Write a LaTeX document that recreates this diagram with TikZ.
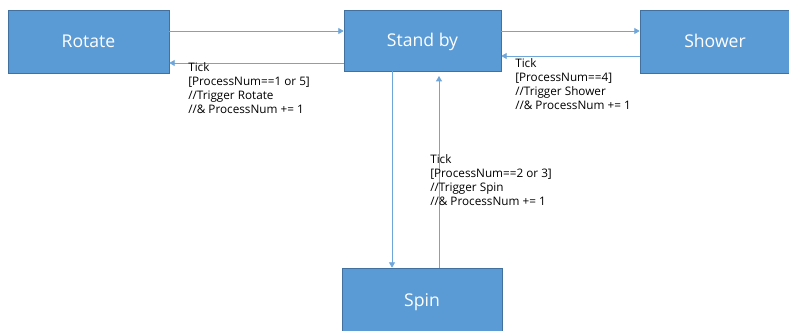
\documentclass[tikz,border=0pt]{standalone}
\usepackage{fontspec}
\setmainfont{Open Sans}
\usetikzlibrary{arrows.meta}
\definecolor{boxblue}{HTML}{5B9BD5}
\definecolor{boxline}{HTML}{41719C}
\definecolor{flowblue}{HTML}{6FA6DA}
\begin{document}
\begin{tikzpicture}[x=0.75pt,y=-0.75pt,
  state/.style={draw=boxline,line width=0.5pt,fill=boxblue,text=white,font=\fontsize{13.2}{15}\selectfont,inner sep=0pt,text height=9.3pt,text depth=0pt},
  flow/.style={draw=flowblue,line width=0.6pt,-{Triangle[width=4.5pt,length=4pt]}},
  guard/.style={align=left,anchor=north west,inner sep=0pt,font=\fontsize{8.8}{10.5}\selectfont}]
\useasboundingbox (0,0) rectangle (789,331);
\node[state,minimum width=120.75pt,minimum height=47.25pt](rot) at (88.5,41.5){Rotate};
\node[state,minimum width=117.75pt,minimum height=45.75pt](sb) at (422.5,40.5){Stand by};
\node[state,minimum width=112.5pt,minimum height=47.25pt](sh) at (715,41.5){Shower};
\node[state,minimum width=120pt,minimum height=48pt](sp) at (422,300){Spin};
\draw[flow](rot.east |- 0,31)--(sb.west |- 0,31);
\draw[flow](sb.west |- 0,63)--(rot.east |- 0,63);
\draw[flow](sb.east |- 0,31)--(sh.west |- 0,31);
\draw[flow](sh.west |- 0,56)--(sb.east |- 0,56);
\draw[flow](392,0 |- sb.south)--(392,0 |- sp.north);
\draw[flow](439,0 |- sp.north)--(439,76);
\node[guard](g1) at (188,62){Tick\\{}[ProcessNum==1 or 5]\\//Trigger Rotate\\//\& ProcessNum += 1};
\node[guard](g2) at (515,58){Tick\\{}[ProcessNum==4]\\//Trigger Shower\\//\& ProcessNum += 1};
\node[guard](g3) at (430,154){Tick\\{}[ProcessNum==2 or 3]\\//Trigger Spin\\//\& ProcessNum += 1};
\end{tikzpicture}
\end{document}
